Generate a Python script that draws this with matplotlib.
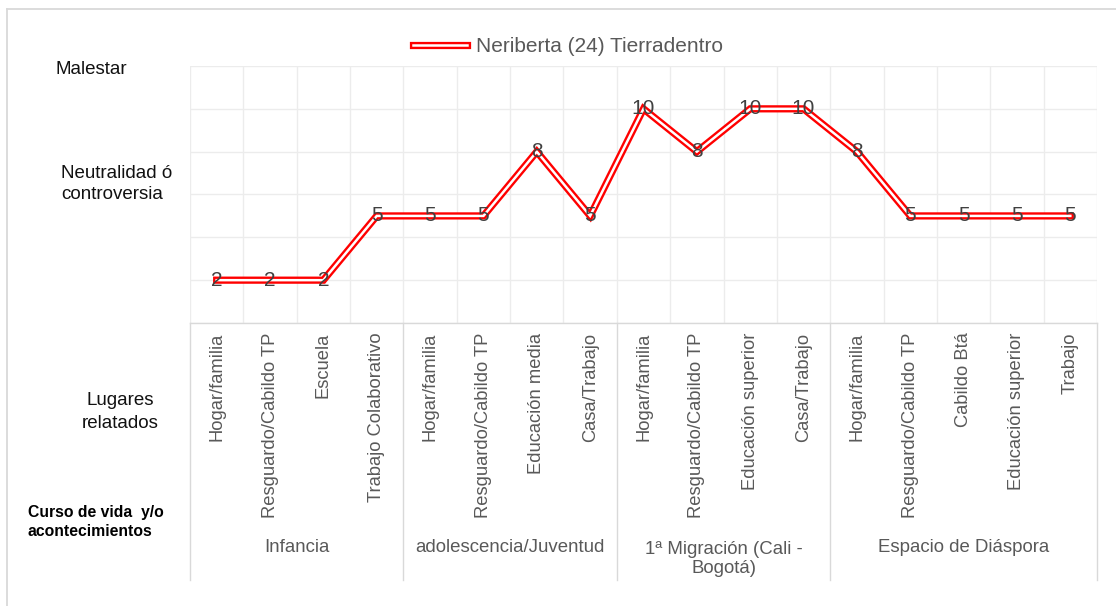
import matplotlib.pyplot as plt
from matplotlib.lines import Line2D
from matplotlib.transforms import blended_transform_factory

W, H = 1116, 606

# lugares relatados y valoración (0 = bienestar ... 12 = malestar)
lugares = ['Hogar/familia', 'Resguardo/Cabildo TP', 'Escuela', 'Trabajo Colaborativo',
           'Hogar/familia', 'Resguardo/Cabildo TP', 'Educación media', 'Casa/Trabajo',
           'Hogar/familia', 'Resguardo/Cabildo TP', 'Educación superior', 'Casa/Trabajo',
           'Hogar/familia', 'Resguardo/Cabildo TP', 'Cabildo Btá', 'Educación superior', 'Trabajo']
valores = [2, 2, 2, 5, 5, 5, 8, 5, 10, 8, 10, 10, 8, 5, 5, 5, 5]

etapas = ['Infancia', 'adolescencia/Juventud', '1ª Migración (Cali -\nBogotá)', 'Espacio de Diáspora']
lugares_por_etapa = [4, 4, 4, 5]

serie = 'Neriberta (24) Tierradentro'

plt.rcParams['font.family'] = ['Liberation Sans', 'DejaVu Sans']

fig = plt.figure(figsize=(W / 100, H / 100), dpi=100)
ax = fig.add_axes([190 / W, 1 - 323 / H, (1097 - 190) / W, (323 - 66) / H])


def px(x, y):
    # pixel coords (top-left origin) -> figure fraction
    return x / W, 1 - y / H


# linea doble: trazo rojo ancho con un trazo blanco fino encima
x = list(range(len(valores)))
ax.plot(x, valores, color='#ff0000', lw=5.2, solid_joinstyle='miter', zorder=3)
ax.plot(x, valores, color='white', lw=1.8, solid_joinstyle='miter', zorder=4)
for xi, v in zip(x, valores):
    ax.text(xi, v, str(v), ha='center', va='center', fontsize=15, color='#404040', zorder=5)

ax.set_xlim(-0.5, len(valores) - 0.5)
ax.set_ylim(0, 12)
ax.set_yticks(range(0, 13, 2))
ax.set_yticklabels([])
ax.set_xticks([i - 0.5 for i in range(len(valores) + 1)], minor=True)
ax.set_xticks(x)
ax.set_xticklabels(lugares, rotation=90, va='top', ha='center', fontsize=13.2, color='#595959')
ax.tick_params(axis='both', which='both', length=0)
ax.tick_params(axis='x', pad=7)
ax.grid(True, axis='y', color='#ececec', lw=1)
ax.grid(True, axis='x', which='minor', color='#ececec', lw=1)
for s in ['top', 'right', 'left']:
    ax.spines[s].set_visible(False)
ax.spines['bottom'].set_color('#d9d9d9')
ax.spines['bottom'].set_linewidth(1)

# separadores y nombres de las etapas
tr = blended_transform_factory(ax.transData, fig.transFigure)
inicio = 0
bordes = [-0.5]
for etapa, n in zip(etapas, lugares_por_etapa):
    centro = inicio + (n - 1) / 2
    y = 559 if '\n' in etapa else 548
    ax.text(centro, 1 - y / H, etapa, transform=tr, ha='center', va='center',
            fontsize=13.4, color='#595959', linespacing=1.1)
    inicio += n
    bordes.append(inicio - 0.5)
for b in bordes:
    ax.add_line(Line2D([b, b], [1 - 323 / H, 1 - 580 / H], transform=tr,
                       color='#d9d9d9', lw=1, clip_on=False))

# leyenda
ax.legend(handles=[(Line2D([], [], color='#ff0000', lw=5.2),
                    Line2D([], [], color='white', lw=1.8))],
          labels=[serie], loc='center', bbox_to_anchor=(px(568, 47)), bbox_transform=fig.transFigure,
          frameon=False, fontsize=15, handlelength=2.6, handletextpad=0.4,
          labelcolor='#595959')

# etiquetas del eje vertical
fig.text(*px(91, 70), 'Malestar', ha='center', va='center', fontsize=13.5, color='#111111')
fig.text(*px(61, 184), 'Neutralidad ó\ncontroversia', ha='left', va='center', fontsize=13.5,
         color='#111111', linespacing=1.25)
fig.text(*px(120, 412), 'Lugares\nrelatados', ha='center', va='center', fontsize=13.5,
         color='#111111', linespacing=1.4)
fig.text(*px(28, 522), 'Curso de vida  y/o\nacontecimientos', ha='left', va='center', fontsize=11.3,
         fontweight='bold', color='black', linespacing=1.3)

# marco exterior
fig.add_artist(Line2D([7 / W, 7 / W], [0, 1 - 9 / H], transform=fig.transFigure, color='#d9d9d9', lw=1.3))
fig.add_artist(Line2D([7 / W, 1], [1 - 9 / H, 1 - 9 / H], transform=fig.transFigure, color='#d9d9d9', lw=1.3))

fig.savefig('out.png', dpi=100)
